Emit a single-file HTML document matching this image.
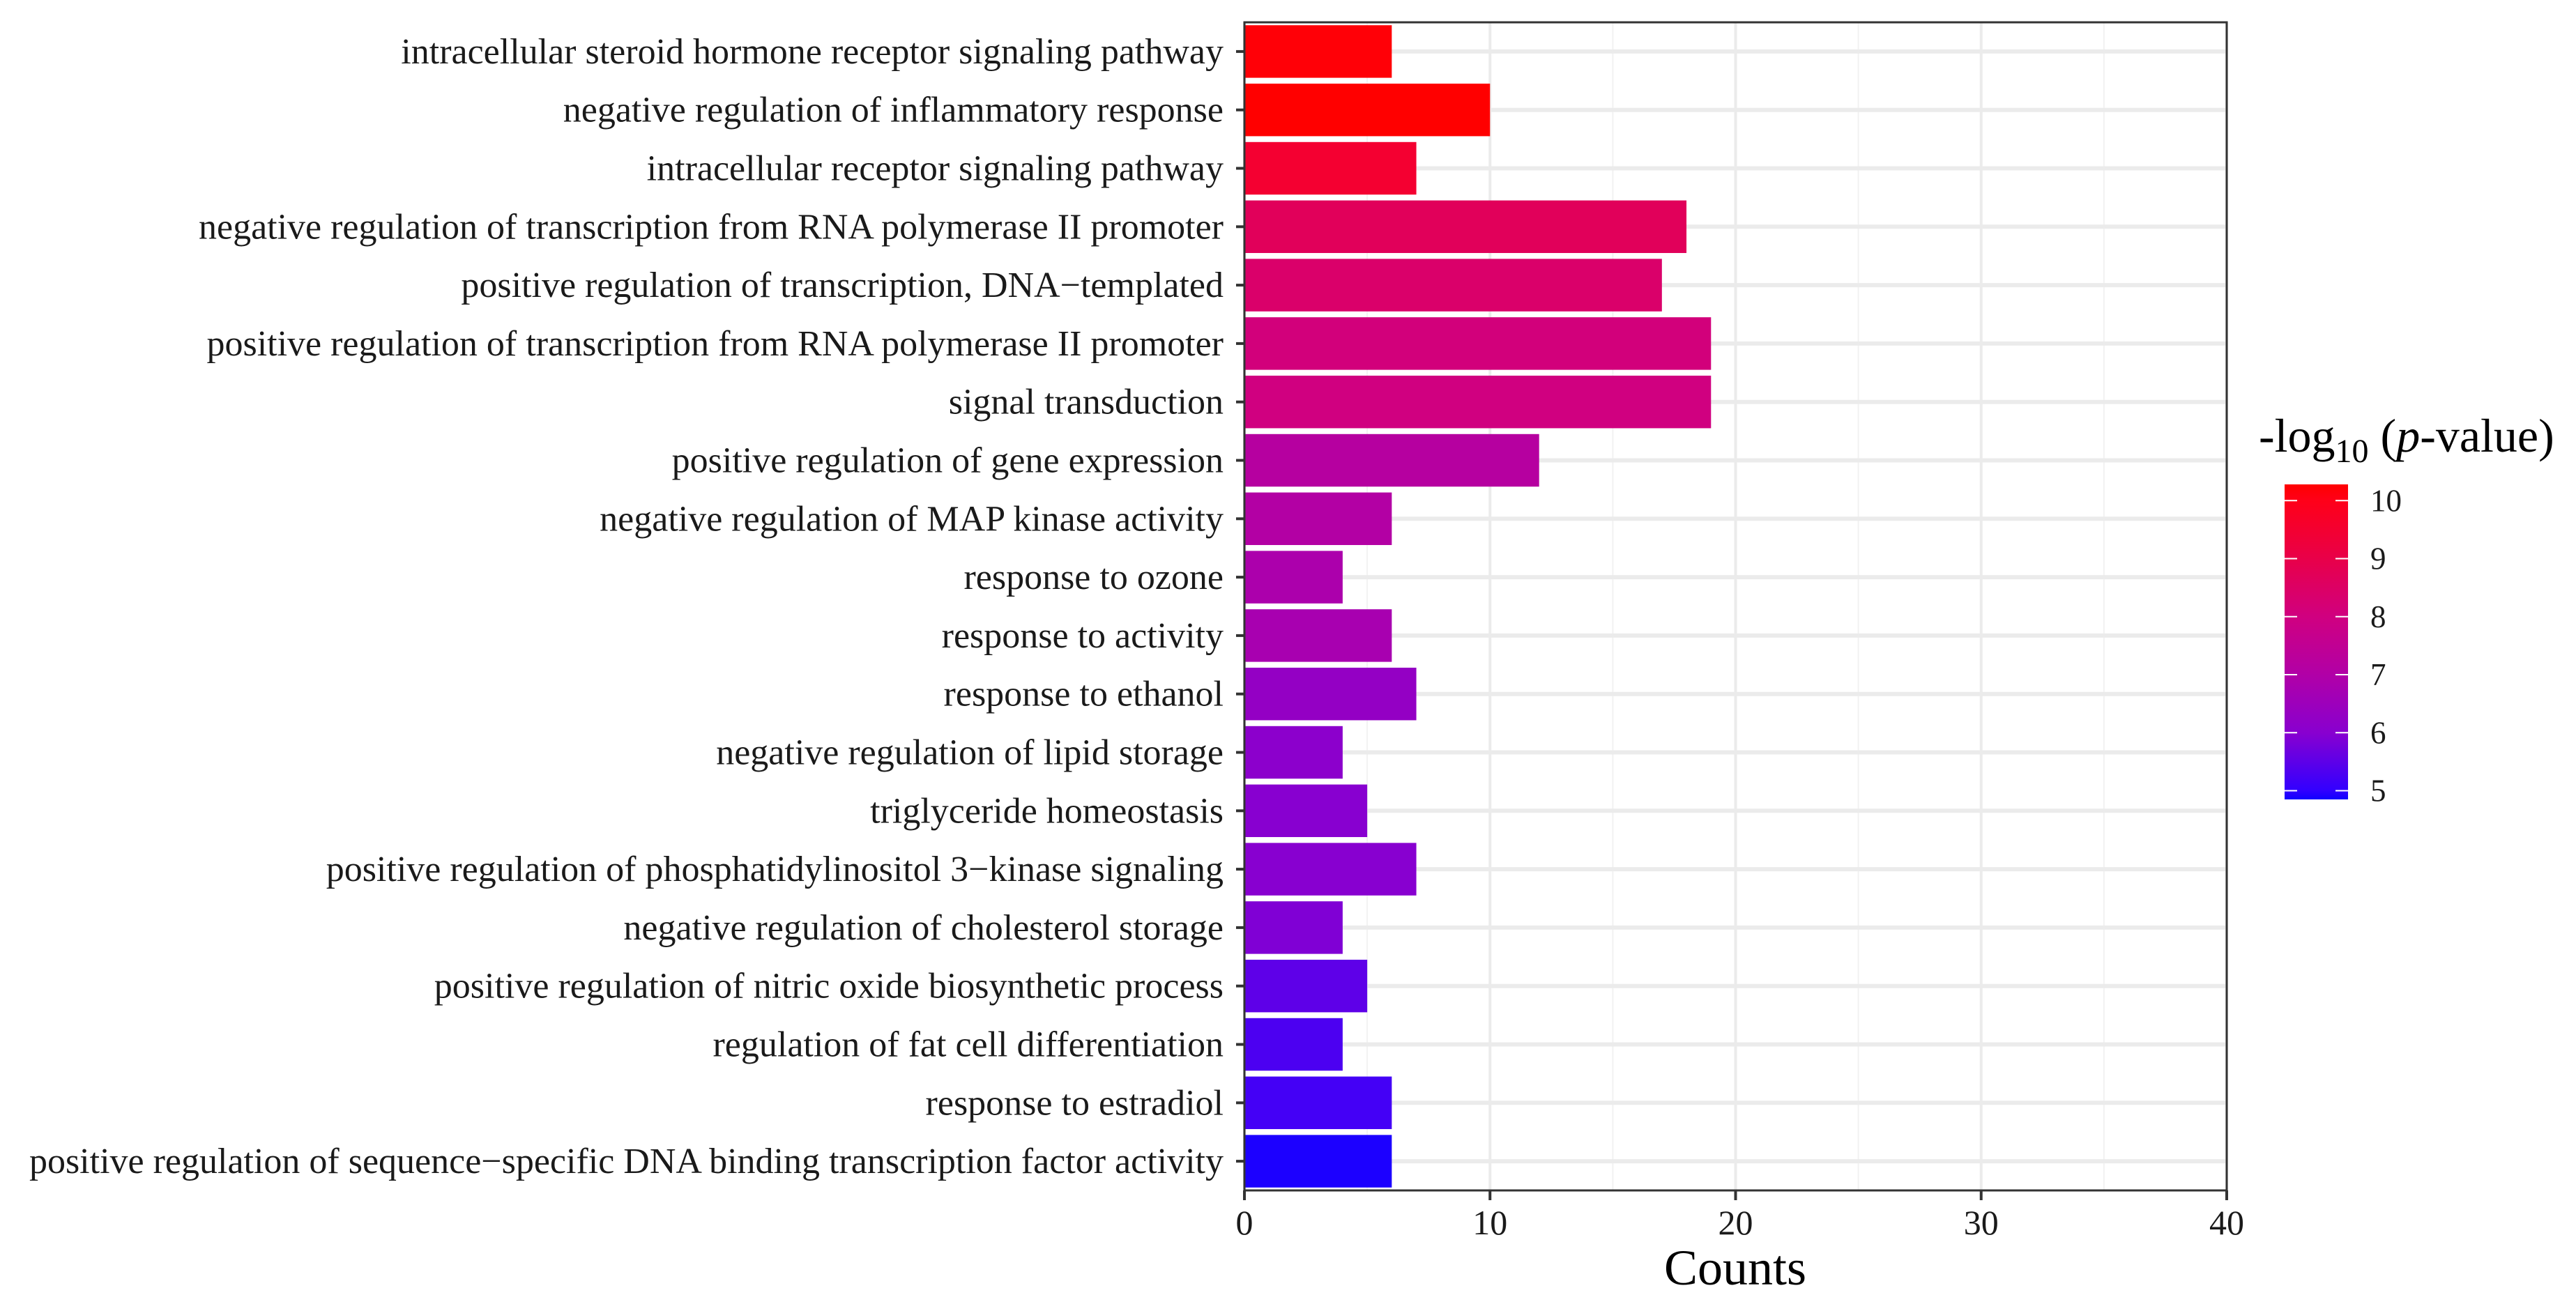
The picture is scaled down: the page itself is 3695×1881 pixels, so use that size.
<!DOCTYPE html>
<html><head><meta charset="utf-8"><style>
html,body{margin:0;padding:0;background:#fff}
svg{display:block;font-family:"Liberation Serif",serif}
</style></head><body>
<svg id="chart" width="3695" height="1881" viewBox="0 0 3695 1881" xmlns="http://www.w3.org/2000/svg">
<defs>
<linearGradient id="cbar" x1="0" y1="1" x2="0" y2="0">
<stop offset="0" stop-color="#1000ff"/>
<stop offset="0.03" stop-color="#3300ff"/>
<stop offset="0.21" stop-color="#8800d0"/>
<stop offset="0.39" stop-color="#b000a8"/>
<stop offset="0.58" stop-color="#d00080"/>
<stop offset="0.76" stop-color="#e8004a"/>
<stop offset="0.95" stop-color="#ff0018"/>
<stop offset="1" stop-color="#ff0000"/>
</linearGradient>
</defs>
<g id="grid"></g>
<g id="bars"></g>
<rect x="1785" y="32" width="1409" height="1676" fill="none" stroke="#333" stroke-width="3"/>
<g id="yaxis"></g>
<g id="xaxis"></g>
<text x="2489" y="1843" font-size="72" text-anchor="middle">Counts</text>
<g>
<text x="3240" y="648" font-size="68">-log<tspan font-size="48" dy="15">10</tspan><tspan dy="-15"> (</tspan><tspan font-style="italic">p</tspan>-value)</text>
<rect x="3277" y="695" width="91" height="452" fill="url(#cbar)"/>
<g id="legticks"></g>
</g>
</svg>
<script>
const categories = [
"intracellular steroid hormone receptor signaling pathway",
"negative regulation of inflammatory response",
"intracellular receptor signaling pathway",
"negative regulation of transcription from RNA polymerase II promoter",
"positive regulation of transcription, DNA\u2212templated",
"positive regulation of transcription from RNA polymerase II promoter",
"signal transduction",
"positive regulation of gene expression",
"negative regulation of MAP kinase activity",
"response to ozone",
"response to activity",
"response to ethanol",
"negative regulation of lipid storage",
"triglyceride homeostasis",
"positive regulation of phosphatidylinositol 3\u2212kinase signaling",
"negative regulation of cholesterol storage",
"positive regulation of nitric oxide biosynthetic process",
"regulation of fat cell differentiation",
"response to estradiol",
"positive regulation of sequence\u2212specific DNA binding transcription factor activity"
];
const counts = [6,10,7,18,17,19,19,12,6,4,6,7,4,5,7,4,5,4,6,6];
const logp = [10.2,10.3,9.5,8.7,8.4,8.1,8.0,7.2,7.1,6.9,6.8,6.3,6.1,6.0,6.0,5.9,5.5,5.3,5.2,4.9];
const xTicks = [0,10,20,30,40];
const legendTicks = [5,6,7,8,9,10];

const NS="http://www.w3.org/2000/svg";
const X0=1785, X1=3194, Y0=32, Y1=1708, XMAX=40;
const band=(Y1-Y0)/categories.length;
const xs=v=>X0+(v/XMAX)*(X1-X0);
const ys=i=>Y0+band*(i+0.5);
const LMIN=4.85, LMAX=10.28, LY0=1147, LY1=695;
const ly=v=>LY0-(v-LMIN)/(LMAX-LMIN)*(LY0-LY1);
const stops=[[4.85,[16,0,255]],[5,[51,0,255]],[6,[136,0,208]],[7,[176,0,168]],[8,[208,0,128]],[9,[232,0,74]],[10,[255,0,24]],[10.28,[255,0,0]]];
function col(v){
  if(v<=stops[0][0])return 'rgb('+stops[0][1]+')';
  for(let k=1;k<stops.length;k++){ if(v<=stops[k][0]){const a=stops[k-1],b=stops[k];const t=(v-a[0])/(b[0]-a[0]);
    return 'rgb('+a[1].map((c,j)=>Math.round(c+(b[1][j]-c)*t)).join(',')+')';}}
  return 'rgb(255,0,0)';
}
function mk(tag,attrs,parent){const e=document.createElementNS(NS,tag);for(const k in attrs)e.setAttribute(k,attrs[k]);parent.appendChild(e);return e;}
const grid=document.getElementById('grid'),bars=document.getElementById('bars'),yax=document.getElementById('yaxis'),xax=document.getElementById('xaxis'),lt=document.getElementById('legticks');
for(let v=5;v<XMAX;v+=10){const l=mk('line',{x1:xs(v),x2:xs(v),y1:Y0,y2:Y1,stroke:'#f2f2f2','stroke-width':2},grid);

}
xTicks.forEach(v=>{const l=mk('line',{x1:xs(v),x2:xs(v),y1:Y0,y2:Y1,stroke:'#ebebeb','stroke-width':4},grid);

});
categories.forEach((c,i)=>{const l=mk('line',{x1:X0,x2:X1,y1:ys(i),y2:ys(i),stroke:'#ebebeb','stroke-width':6},grid);

});
categories.forEach((c,i)=>{
  const h=band*0.9;
  const r=mk('rect',{x:X0,y:ys(i)-h/2,width:xs(counts[i])-X0,height:h,fill:col(logp[i])},bars);
  
  
  const t=mk('line',{x1:X0-12,x2:X0,y1:ys(i),y2:ys(i),stroke:'#333','stroke-width':4},yax);
  
  
  const tx=mk('text',{x:X0-30,y:ys(i)+17,'font-size':52,'text-anchor':'end',fill:'#1a1a1a'},yax);
  tx.textContent=c;
  
  
});
xTicks.forEach(v=>{
  const t=mk('line',{x1:xs(v),x2:xs(v),y1:Y1,y2:Y1+14,stroke:'#333','stroke-width':4},xax);
  
  
  const tx=mk('text',{x:xs(v),y:1771,'font-size':50,'text-anchor':'middle',fill:'#1a1a1a'},xax);
  tx.textContent=v;
  
  
});
legendTicks.forEach(v=>{
  const y=ly(v);
  const a=mk('line',{x1:3277,x2:3295,y1:y,y2:y,stroke:'#fff','stroke-width':2},lt);
  
  
  const b=mk('line',{x1:3350,x2:3368,y1:y,y2:y,stroke:'#fff','stroke-width':2},lt);
  
  
  const tx=mk('text',{x:3400,y:y+15,'font-size':45,fill:'#1a1a1a'},lt);
  tx.textContent=v;
  
  
});
</script>
</body></html>
